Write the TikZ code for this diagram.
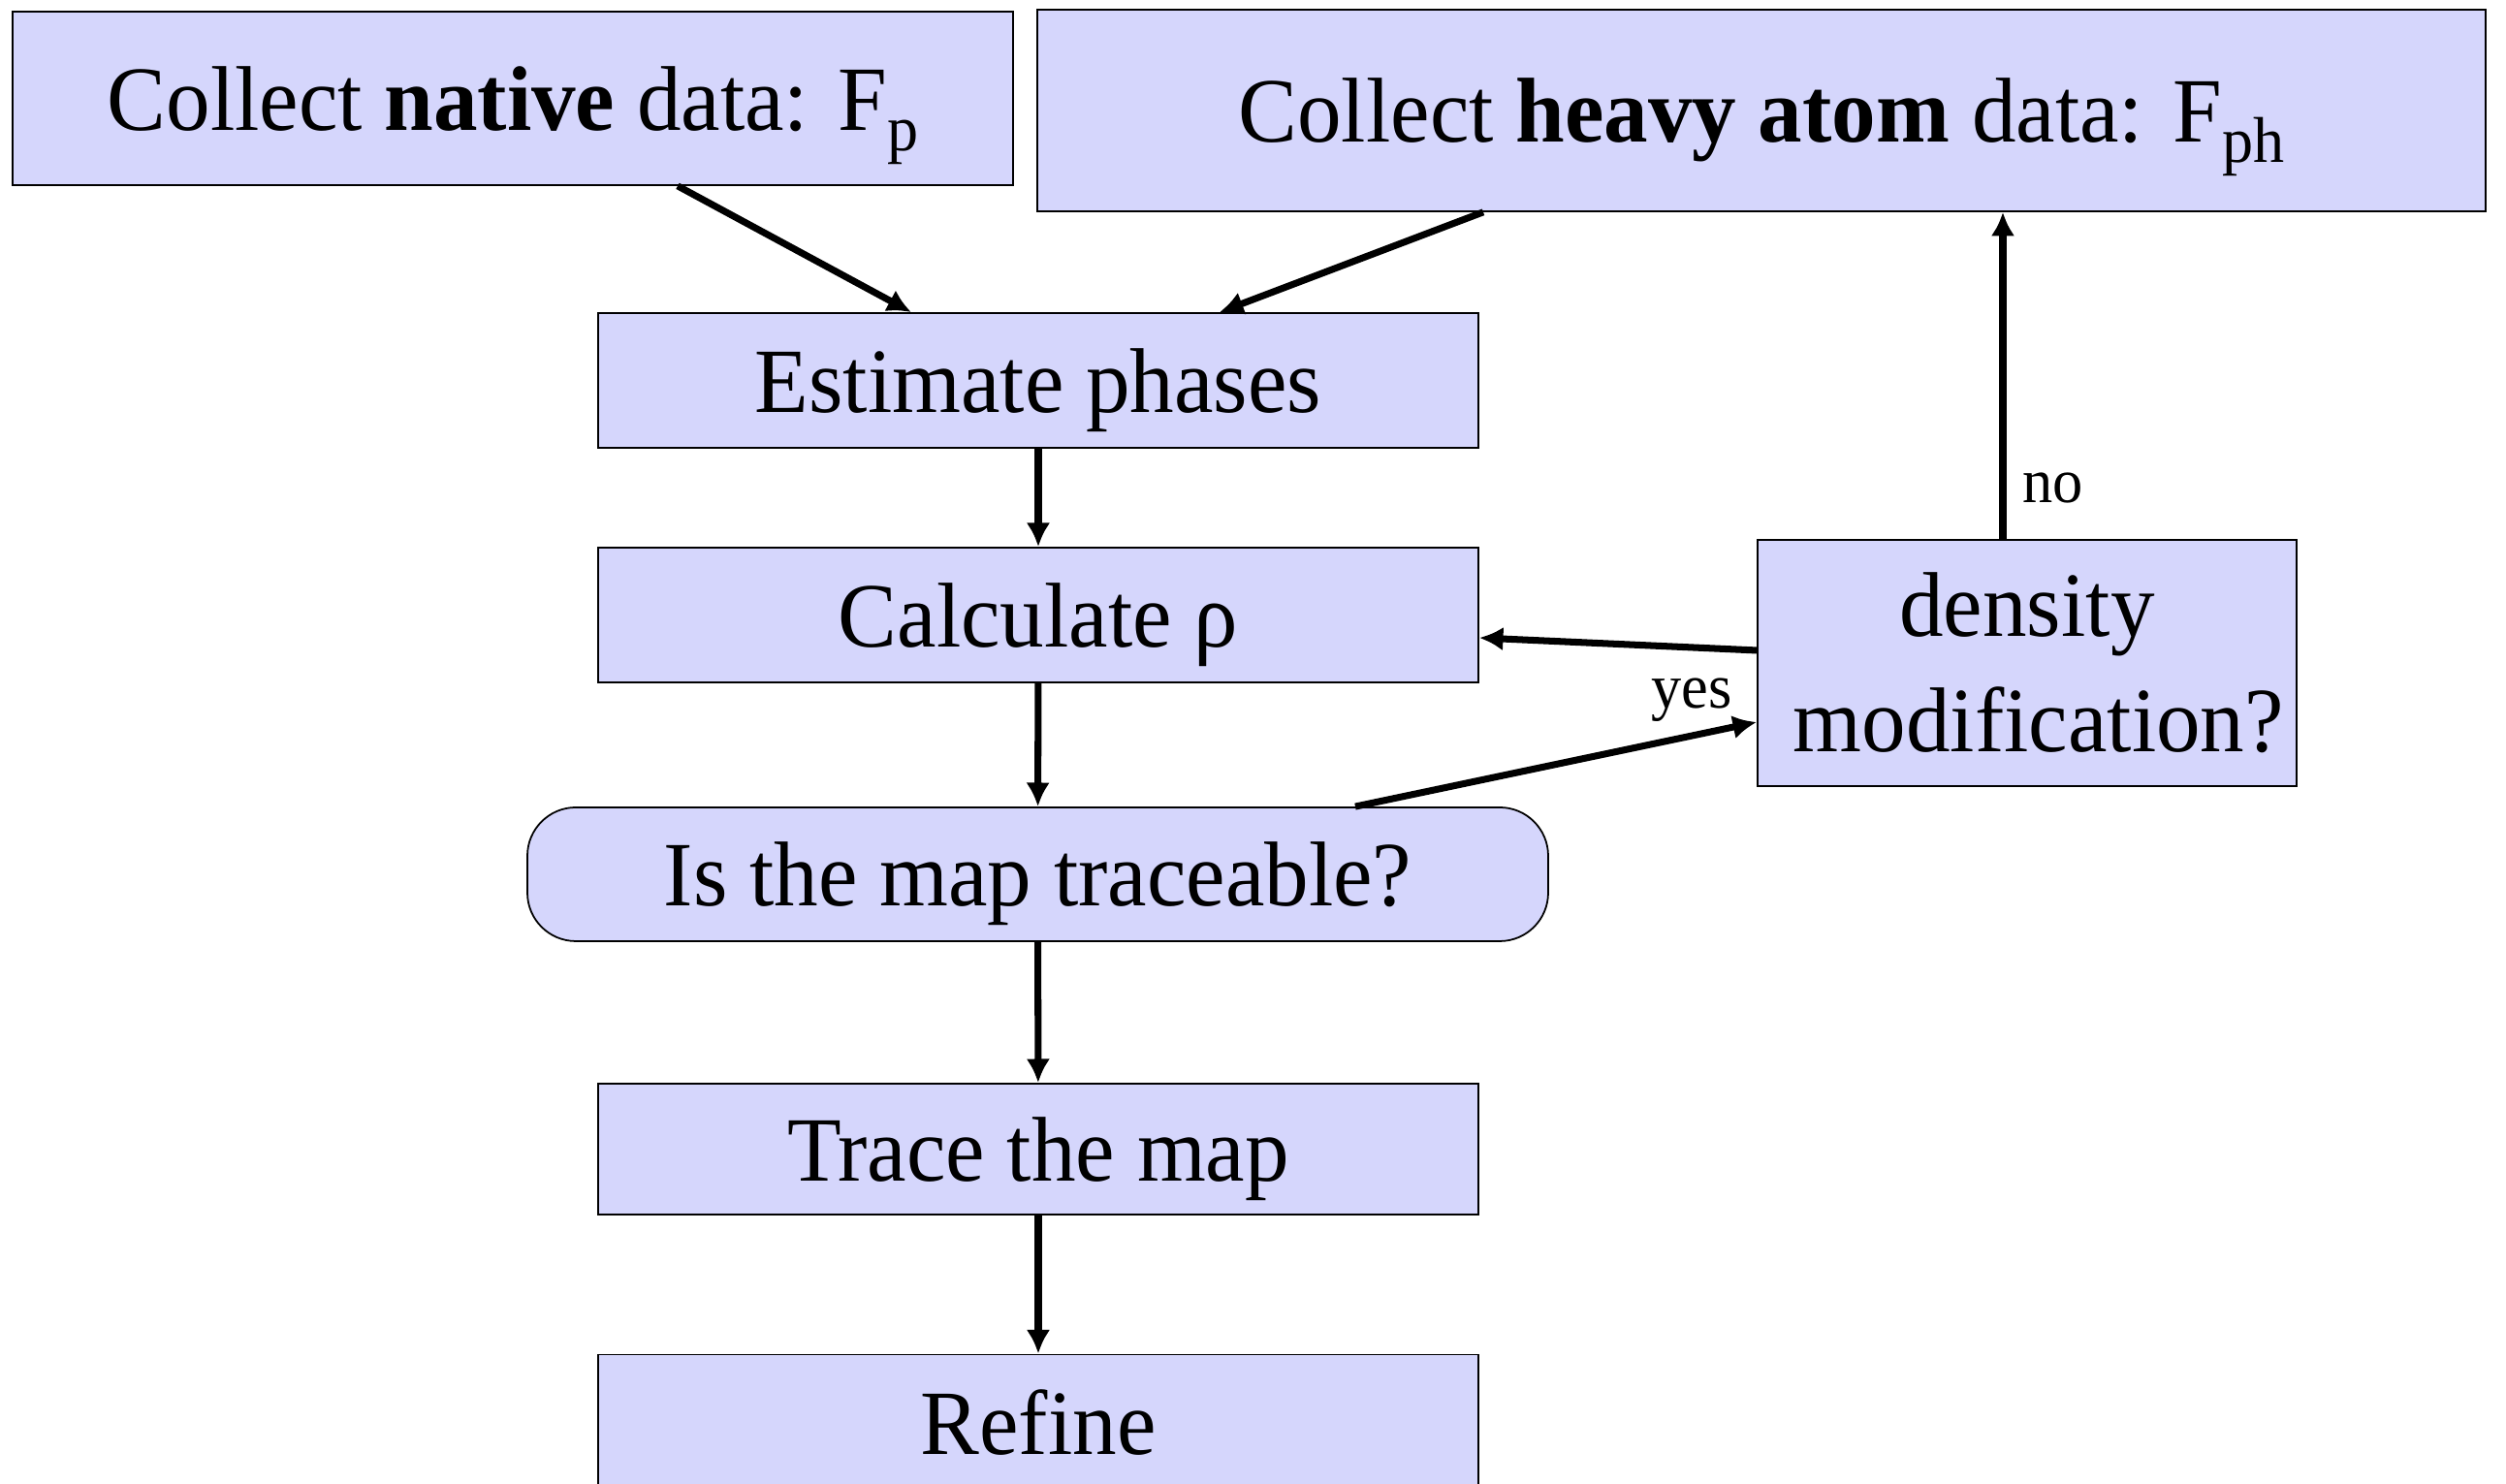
\documentclass[tikz,border=0pt]{standalone}
\usepackage{fontspec}
\setmainfont{Liberation Serif}[FakeStretch=0.96]
\usetikzlibrary{arrows.meta}
\definecolor{boxfill}{RGB}{213,214,252}
\newcommand{\lowsub}[1]{\raisebox{-0.22em}{\fontsize{19}{19}\selectfont #1}}

\begin{document}
\begin{tikzpicture}[x=1cm,y=1cm,>={Latex[length=7pt,width=7pt]},
  stepbox/.style={draw,line width=0.5pt,fill=boxfill,inner sep=0pt,
    font=\fontsize{27}{33.8}\selectfont,align=center},
  oneline/.style={stepbox,text depth=0pt},
  flow/.style={->,line width=2pt},
  lbl/.style={font=\fontsize{18.5}{20}\selectfont,inner sep=2pt}]
 \useasboundingbox (0,0) rectangle (25.85,15.31);
 % top row
 \node[oneline,minimum width=10.32cm,minimum height=1.79cm] (native) at (5.29,14.295)
   {Collect \textbf{native} data: F\lowsub{p}};
 \node[oneline,minimum width=14.94cm,minimum height=2.08cm] (heavy) at (18.17,14.17)
   {Collect \textbf{heavy atom} data: F\lowsub{ph}};
 % main column
 \node[oneline,minimum width=9.08cm,minimum height=1.39cm] (est) at (10.71,11.385) {Estimate phases};
 \node[oneline,minimum width=9.08cm,minimum height=1.39cm] (calc) at (10.71,8.965) {Calculate ρ};
 \node[oneline,rounded corners=0.5cm,minimum width=10.53cm,minimum height=1.38cm] (trace) at (10.705,6.29)
   {Is the map traceable?};
 \node[oneline,minimum width=9.08cm,minimum height=1.35cm] (tracemap) at (10.71,3.455) {Trace the map};
 \node[oneline,minimum width=9.08cm,minimum height=1.39cm] (refine) at (10.71,0.64) {Refine};
 \node[stepbox,minimum width=5.56cm,minimum height=2.54cm] (dens) at (20.91,8.47)
   {density\\ \hspace*{0.25em}modification?};
 % connectors
 \draw[flow] ([xshift=1.70cm]native.south) -- ([xshift=-1.31cm]est.north);
 \draw[flow] ([xshift=-2.87cm]heavy.south) -- ([xshift=1.87cm]est.north);
 \draw[flow] (est) -- (calc);
 \draw[flow] (calc) -- (trace);
 \draw[flow] (trace) -- (tracemap);
 \draw[flow] (tracemap) -- (refine);
 \draw[flow] ([yshift=0.13cm]dens.west) -- ([yshift=-0.235cm]calc.east);
 \draw[flow] ([xshift=3.275cm]trace.north) -- ([yshift=-0.61cm]dens.west)
   node[lbl,pos=1,anchor=south east,xshift=-0.15cm,yshift=-0.1cm] {yes};
 \draw[flow] ([xshift=-0.25cm]dens.north) -- ([xshift=-0.25cm]dens.north |- heavy.south)
   node[lbl,pos=0.155,right,xshift=0.1cm] {no};
\end{tikzpicture}
\end{document}
